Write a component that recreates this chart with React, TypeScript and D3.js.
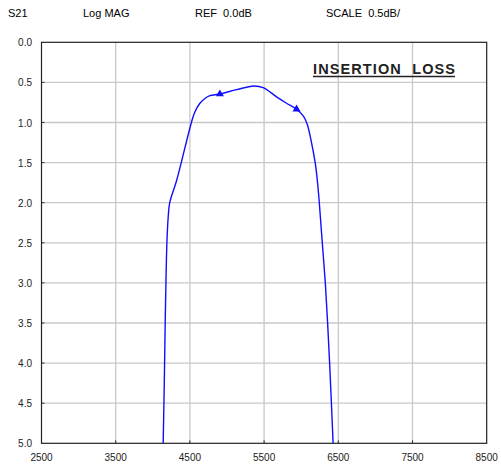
import React from "react";
import * as d3 from "d3";

const freqs = [4140, 4150, 4159, 4167, 4177, 4190, 4206, 4228, 4322, 4523, 4567, 4635, 4702, 4769, 4904, 5129, 5362, 5487, 5668, 5803, 5937, 6030, 6080, 6128, 6190, 6217, 6244, 6284, 6325, 6356, 6383, 6407, 6430];
const losses = [5.0, 4.5, 4.0, 3.5, 3.0, 2.5, 2.2, 2.0, 1.72, 0.99, 0.87, 0.76, 0.70, 0.665, 0.645, 0.59, 0.545, 0.565, 0.68, 0.76, 0.835, 0.92, 1.02, 1.2, 1.51, 1.72, 2.0, 2.5, 3.0, 3.5, 4.0, 4.5, 5.0];
const markerFreqs = [4904, 5937];
const markerLosses = [0.645, 0.835];
const xTicks = [2500, 3500, 4500, 5500, 6500, 7500, 8500];
const yTicks = [0, 0.5, 1, 1.5, 2, 2.5, 3, 3.5, 4, 4.5, 5];
const headerLabels = ["S21", "Log MAG", "REF  0.0dB", "SCALE  0.5dB/"];
const headerX = [8, 83, 195, 326];
const title = "INSERTION  LOSS";

export default function App() {
  const W = 501, H = 470;
  const L = 41.5, R = 486.7, T = 42.3, B = 443.3;
  const x = d3.scaleLinear().domain([2500, 8500]).range([L, R]);
  const y = d3.scaleLinear().domain([0, 5]).range([T, B]);
  const pts: [number, number][] = freqs.map((f, i) => [f, losses[i]]);
  const line = d3.line<[number, number]>().x(d => x(d[0])).y(d => y(d[1])).curve(d3.curveCatmullRom.alpha(0.5));
  const tri = d3.symbol().type(d3.symbolTriangle).size(28);
  const font = "'Liberation Sans', Arial, sans-serif";
  return (
    <svg width={W} height={H} style={{ position: "absolute", left: 0, top: 0, background: "#fff" }} fontFamily={font}>
      <rect x={0} y={0} width={W} height={H} fill="#fff" />
      {headerLabels.map((t, i) => (
        <text key={t} x={headerX[i]} y={17} fontSize={11} fill="#000" style={{ whiteSpace: "pre" }}>{t}</text>
      ))}
      {xTicks.slice(1, -1).map(t => (
        <line key={"gx" + t} x1={x(t)} x2={x(t)} y1={T} y2={B} stroke="#c8c8c8" strokeWidth={1.3} />
      ))}
      {yTicks.slice(1, -1).map(t => (
        <line key={"gy" + t} x1={L} x2={R} y1={y(t)} y2={y(t)} stroke="#c8c8c8" strokeWidth={1.3} />
      ))}
      {xTicks.slice(1, -1).map(t => (
        <line key={"tx" + t} x1={x(t)} x2={x(t)} y1={B - 3} y2={B} stroke="#333" strokeWidth={1} />
      ))}
      {yTicks.slice(1, -1).map(t => (
        <line key={"ty" + t} x1={L} x2={L + 3} y1={y(t)} y2={y(t)} stroke="#333" strokeWidth={1} />
      ))}
      <rect x={L} y={T} width={R - L} height={B - T} fill="none" stroke="#222" strokeWidth={1.2} />
      {yTicks.map(t => (
        <text key={"ly" + t} x={32} y={y(t) + 4} fontSize={10} textAnchor="end" fill="#222">{t.toFixed(1)}</text>
      ))}
      {xTicks.map(t => (
        <text key={"lx" + t} x={x(t)} y={461} fontSize={10} textAnchor="middle" fill="#222">{t}</text>
      ))}
      <path d={line(pts) || ""} fill="none" stroke="#0f0fff" strokeWidth={1.4} strokeLinejoin="round" />
      {markerFreqs.map((f, i) => (
        <path key={"m" + i} d={tri() || ""} transform={`translate(${x(f)},${y(markerLosses[i])})`} fill="#0f0fff" />
      ))}
      <text x={313} y={74} fontSize={14.5} fontWeight="bold" fill="#222" style={{ whiteSpace: "pre" }} textLength={142} lengthAdjust="spacing">{title}</text>
      <line x1={313} x2={455} y1={76.5} y2={76.5} stroke="#222" strokeWidth={1.3} />
    </svg>
  );
}
